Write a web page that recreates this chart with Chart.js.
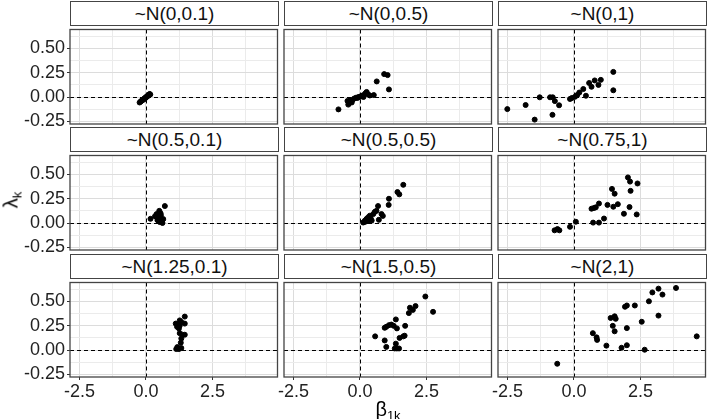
<!DOCTYPE html>
<html>
<head>
<meta charset="utf-8">
<script src="https://cdn.jsdelivr.net/npm/chart.js@4.4.1/dist/chart.umd.min.js"></script>
<style>
  html, body { margin: 0; padding: 0; background: #fff; }
  #wrap { position: relative; width: 709px; height: 419px; overflow: hidden; font-family: "Liberation Sans", Arial, sans-serif; }
  #wrap canvas { position: absolute; }
  .strip { position: absolute; box-sizing: border-box; border: 1px solid #444; background: #fff; color: #111; font-size: 19px; text-align: center; line-height: 23px; }
  .axtitle { position: absolute; color: #000; font-size: 20px; white-space: nowrap; line-height: 20px; }
  .axtitle sub { font-size: 13px; vertical-align: baseline; position: relative; top: 4px; }
</style>
</head>
<body>
<div id="wrap"></div>
<script>
// facet titles
const titles = ['~N(0,0.1)', '~N(0,0.5)', '~N(0,1)', '~N(0.5,0.1)', '~N(0.5,0.5)', '~N(0.75,1)', '~N(1.25,0.1)', '~N(1.5,0.5)', '~N(2,1)'];

// beta_1k (x) and lambda_k (y)
const beta1 = [-0.24, -0.2, -0.18, -0.15, -0.12, -0.1, -0.07, -0.06, -0.03, -0.02, 0, 0.02, 0.03, 0.05, 0.07, 0.08, 0.1, 0.12, 0.14, 0.16];
const lambda1 = [-0.056, -0.047, -0.042, -0.035, -0.031, -0.024, -0.021, -0.015, -0.013, -0.006, -0.004, 0.001, 0.005, 0.009, 0.011, 0.017, 0.019, 0.026, 0.031, 0.026];
const beta2 = [-0.81, -0.47, -0.44, -0.4, -0.37, -0.31, -0.28, -0.22, -0.15, -0.1, -0.06, 0, 0.05, 0.1, 0.13, 0.19, 0.22, 0.25, 0.31, 0.37, 0.52, 0.63, 0.91, 1.04, 1.09];
const lambda2 = [-0.127, -0.04, -0.078, -0.06, -0.033, -0.056, -0.03, -0.016, -0.007, -0.01, 0, 0.003, 0.01, 0.016, 0, 0.033, 0.04, 0.052, 0.026, 0.016, 0.02, 0.16, 0.235, 0.225, 0.078];
const beta3 = [-2.51, -1.82, -1.48, -1.29, -0.9, -0.8, -0.72, -0.56, -0.81, -0.15, -0.08, 0.04, 0.12, 0.2, 0.35, 0.45, 0.57, 0.66, 0.78, 0.92, 1.01, 1.48, 1.48];
const lambda3 = [-0.124, -0.082, -0.232, -0.003, -0.003, -0.003, -0.042, -0.085, -0.183, -0.02, -0.01, 0.003, 0.02, 0.046, 0.082, 0.013, 0.144, 0.105, 0.17, 0.124, 0.176, 0.258, 0.069];
const beta4 = [0.17, 0.34, 0.4, 0.43, 0.46, 0.5, 0.52, 0.55, 0.58, 0.62, 0.65, 0.71, 0.48, 0.44, 0.56, 0.6];
const lambda4 = [0.043, 0.07, 0.092, 0.03, 0.06, 0.125, 0.01, 0.1, 0.03, 0, 0.04, 0.174, 0.02, 0.05, 0.08, 0.015];
const beta5 = [0.12, 0.15, 0.19, 0.22, 0.25, 0.28, 0.31, 0.37, 0.44, 0.5, 0.56, 0.62, 0.68, 0.71, 0.81, 0.86, 1.08, 1.09, 1.41, 1.48, 1.63, 0.3, 0.4];
const lambda5 = [0.005, 0.01, 0.026, 0.015, 0.043, 0.03, 0.059, 0.075, 0.026, 0.092, 0.115, 0.125, 0.174, 0.033, 0.092, 0.073, 0.186, 0.249, 0.318, 0.294, 0.392, 0.02, 0.05];
const beta6 = [-0.73, -0.62, -0.55, -0.15, 0.07, 0.72, 0.94, 1.13, 0.66, 0.75, 0.82, 0.94, 1.26, 1.48, 1.65, 1.43, 1.53, 1.88, 2.09, 2.03, 2.11, 2.13, 2.39, 2.36];
const lambda6 = [-0.075, -0.062, -0.075, -0.039, 0.013, 0.004, 0.004, 0.046, 0.147, 0.154, 0.161, 0.2, 0.186, 0.167, 0.193, 0.35, 0.301, 0.095, 0.164, 0.468, 0.425, 0.33, 0.406, 0.088];
const beta7 = [1.46, 1.27, 1.12, 1.17, 1.33, 1.46, 1.24, 1.27, 1.37, 1.46, 1.33, 1.31, 1.14, 1.24, 1.33, 1.18, 1.27, 1.2];
const lambda7 = [0.343, 0.304, 0.271, 0.238, 0.287, 0.271, 0.222, 0.173, 0.157, 0.157, 0.118, 0.075, 0.01, 0.01, 0.02, 0.03, 0.25, 0.26];
const beta8 = [0.57, 0.93, 0.99, 0.93, 0.99, 1.09, 1.18, 1.27, 1.35, 1.39, 1.35, 1.31, 1.39, 1.47, 1.49, 1.63, 1.68, 1.7, 1.84, 1.88, 1.99, 2.09, 2.46, 2.75];
const lambda8 = [0.14, 0.098, 0.032, 0.228, 0.238, 0.255, 0.261, 0.248, 0.314, 0.222, 0.065, 0.016, 0.016, 0.016, 0.124, 0.14, 0.147, 0.248, 0.379, 0.434, 0.412, 0.451, 0.549, 0.392];
const beta9 = [-0.63, 0.71, 0.85, 0.87, 1.22, 1.38, 1.53, 1.57, 1.46, 1.53, 1.79, 1.92, 1.99, 1.99, 1.99, 2.29, 2.55, 2.66, 2.82, 2.95, 3.18, 3.33, 3.18, 3.84, 4.62];
const lambda9 = [-0.141, 0.173, 0.13, 0.104, 0.045, 0.329, 0.346, 0.32, 0.248, 0.192, 0.023, 0.444, 0.457, 0.225, 0.049, 0.457, 0.29, 0.003, 0.5, 0.591, 0.63, 0.569, 0.353, 0.637, 0.14];

// axes
const xTicks = [-2.5, -1.25, 0, 1.25, 2.5, 3.75];
const xLabelled = [-2.5, 0, 2.5];
const yTicks = [-0.25, -0.125, 0, 0.125, 0.25, 0.375, 0.5, 0.625];
const yLabelled = [-0.25, 0, 0.25, 0.5];
const xMin = -2.86, xMax = 4.95;
const yMin = -0.277, yMax = 0.693;

const xs = [beta1, beta2, beta3, beta4, beta5, beta6, beta7, beta8, beta9];
const ys = [lambda1, lambda2, lambda3, lambda4, lambda5, lambda6, lambda7, lambda8, lambda9];

const wrap = document.getElementById('wrap');
const colLeft = [70, 284, 498];
const rowTop = [26, 152, 279];
const plotW = 209, plotH = 98, stripH = 25;
const tickFont = { family: '"Liberation Sans", Arial, sans-serif', size: 18 };

const panelFrame = {
  id: 'panelFrame',
  beforeDatasetsDraw(chart) {
    const { ctx, chartArea: a, scales: { x, y } } = chart;
    const x0 = Math.round(x.getPixelForValue(0)) + 0.5;
    const y0 = Math.round(y.getPixelForValue(0)) + 0.5;
    ctx.save();
    ctx.strokeStyle = '#000';
    ctx.lineWidth = 1;
    ctx.setLineDash([4, 3]);
    ctx.beginPath();
    ctx.moveTo(x0, a.top); ctx.lineTo(x0, a.bottom);
    ctx.moveTo(a.left, y0); ctx.lineTo(a.right, y0);
    ctx.stroke();
    ctx.restore();
  },
  afterDraw(chart) {
    const { ctx, chartArea: a } = chart;
    ctx.save();
    ctx.strokeStyle = '#444';
    ctx.lineWidth = 1.3;
    ctx.strokeRect(a.left, a.top, a.right - a.left, a.bottom - a.top);
    ctx.restore();
  }
};

titles.forEach((title, i) => {
  const col = i % 3, row = Math.floor(i / 3);
  const first = col === 0, bottom = row === 2;
  const padL = first ? 0 : 16;
  const padR = 2;
  const padB = bottom ? 0 : 10;
  const axisW = first ? 70 : 0;
  const axisH = bottom ? 27 : 0;
  const left = first ? 0 : colLeft[col] - padL;
  const w = colLeft[col] + plotW + padR - left;
  const h = plotH + axisH + padB;

  const strip = document.createElement('div');
  strip.className = 'strip';
  strip.style.left = colLeft[col] + 'px';
  strip.style.top = (rowTop[row] - stripH) + 'px';
  strip.style.width = plotW + 'px';
  strip.style.height = stripH + 'px';
  strip.textContent = title;
  wrap.appendChild(strip);

  const canvas = document.createElement('canvas');
  canvas.width = w; canvas.height = h;
  canvas.style.left = left + 'px';
  canvas.style.top = rowTop[row] + 'px';
  canvas.style.width = w + 'px';
  canvas.style.height = h + 'px';
  wrap.appendChild(canvas);

  new Chart(canvas, {
    type: 'scatter',
    data: {
      datasets: [{
        data: xs[i].map((v, k) => ({ x: v, y: ys[i][k] })),
        backgroundColor: '#000',
        borderColor: '#000',
        pointRadius: 2.5,
        pointHoverRadius: 2.5,
      }],
    },
    options: {
      responsive: false,
      maintainAspectRatio: false,
      animation: false,
      events: [],
      layout: { padding: { left: padL, right: padR, top: 0, bottom: padB } },
      plugins: { legend: { display: false }, tooltip: { enabled: false } },
      scales: {
        x: {
          type: 'linear', min: xMin, max: xMax,
          afterBuildTicks: s => { s.ticks = xTicks.map(v => ({ value: v })); },
          afterFit: s => { s.height = axisH; s.paddingLeft = 0; s.paddingRight = 0; s.paddingTop = 0; s.paddingBottom = 0; },
          ticks: {
            display: bottom, autoSkip: false, maxRotation: 0, padding: 1,
            font: tickFont, color: '#222',
            callback: v => xLabelled.includes(v) ? v.toFixed(1) : '',
          },
          grid: {
            color: c => xLabelled.includes(c.tick && c.tick.value) ? '#dcdcdc' : '#ebebeb',
            lineWidth: 1,
            drawTicks: bottom, tickLength: 3,
            tickColor: c => xLabelled.includes(c.tick && c.tick.value) ? '#333' : 'rgba(0,0,0,0)',
          },
          border: { display: false },
        },
        y: {
          type: 'linear', min: yMin, max: yMax,
          afterBuildTicks: s => { s.ticks = yTicks.map(v => ({ value: v })); },
          afterFit: s => { s.width = axisW; s.paddingLeft = 0; s.paddingRight = 0; s.paddingTop = 0; s.paddingBottom = 0; },
          ticks: {
            display: first, autoSkip: false, padding: 2,
            font: tickFont, color: '#222',
            callback: v => yLabelled.includes(v) ? v.toFixed(2) : '',
          },
          grid: {
            color: c => yLabelled.includes(c.tick && c.tick.value) ? '#dcdcdc' : '#ebebeb',
            lineWidth: 1,
            drawTicks: first, tickLength: 3,
            tickColor: c => yLabelled.includes(c.tick && c.tick.value) ? '#333' : 'rgba(0,0,0,0)',
          },
          border: { display: false },
        },
      },
    },
    plugins: [panelFrame],
  });
});

const xt = document.createElement('div');
xt.className = 'axtitle';
xt.innerHTML = 'β<sub>1k</sub>';
xt.style.left = '388px';
xt.style.top = '399px';
xt.style.transform = 'translateX(-50%)';
wrap.appendChild(xt);

const yt = document.createElement('div');
yt.className = 'axtitle';
yt.innerHTML = 'λ<sub>k</sub>';
yt.style.left = '12px';
yt.style.top = '200px';
yt.style.transform = 'translate(-50%, -50%) rotate(-90deg)';
wrap.appendChild(yt);
</script>
</body>
</html>
